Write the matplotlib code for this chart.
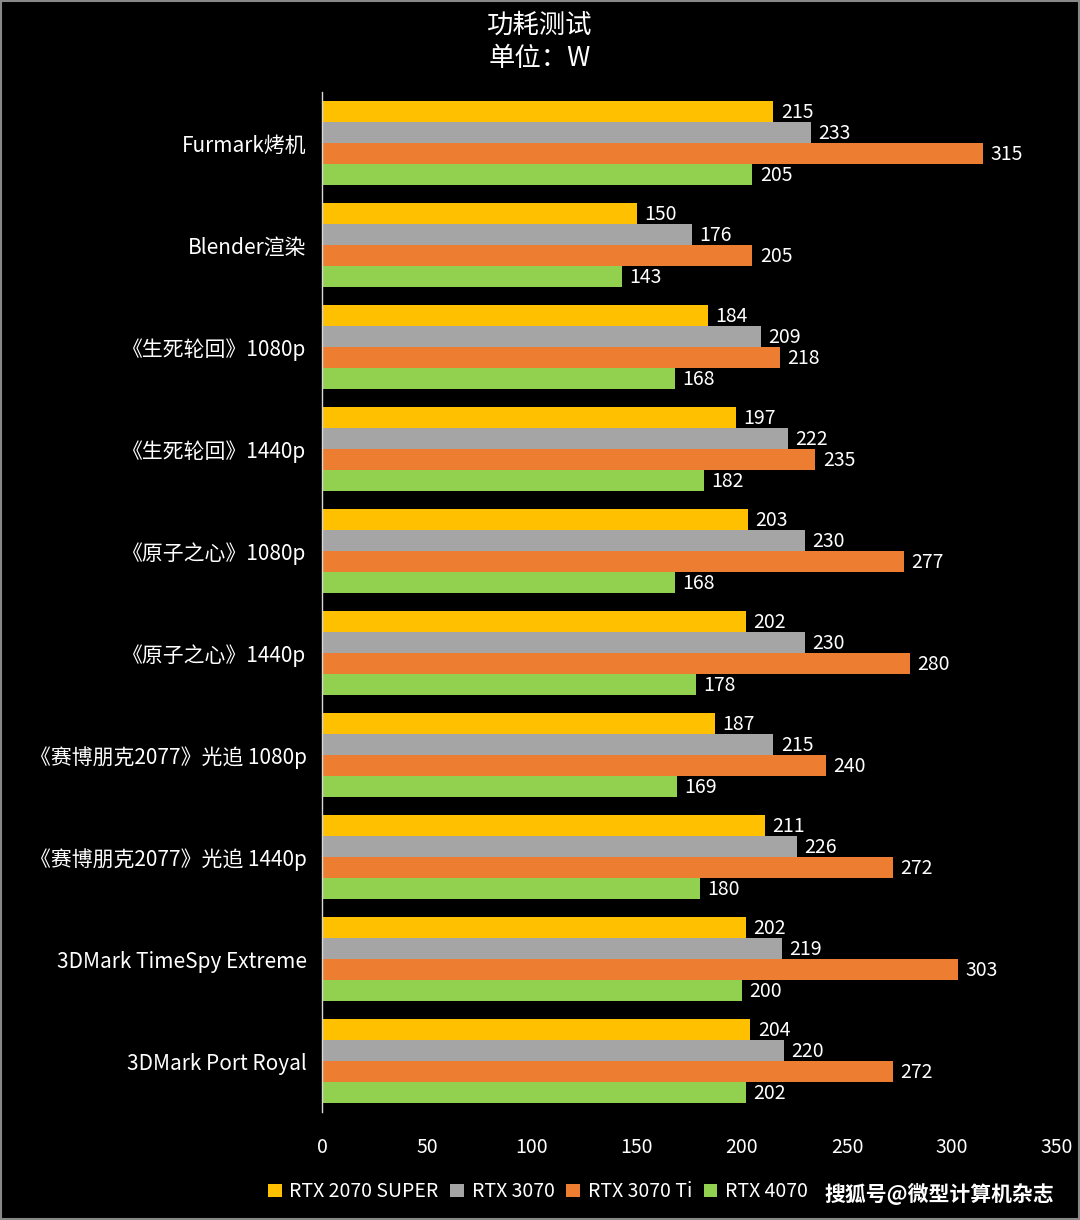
import matplotlib
matplotlib.use("Agg")
import matplotlib.pyplot as plt
from matplotlib.patches import Rectangle
import numpy as np

plt.rcParams['font.family'] = ['Noto Sans CJK SC', 'DejaVu Sans']

# données
categories = ["Furmark烤机", "Blender渲染", "《生死轮回》1080p", "《生死轮回》1440p",
              "《原子之心》1080p", "《原子之心》1440p", "《赛博朋克2077》光追 1080p",
              "《赛博朋克2077》光追 1440p", "3DMark TimeSpy Extreme", "3DMark Port Royal"]
rtx2070s = [215, 150, 184, 197, 203, 202, 187, 211, 202, 204]
rtx3070 = [233, 176, 209, 222, 230, 230, 215, 226, 219, 220]
rtx3070ti = [315, 205, 218, 235, 277, 280, 240, 272, 303, 272]
rtx4070 = [205, 143, 168, 182, 168, 178, 169, 180, 200, 202]
series_names = ["RTX 2070 SUPER", "RTX 3070", "RTX 3070 Ti", "RTX 4070"]
colors = ["#FFC000", "#A5A5A5", "#ED7D31", "#92D050"]
xticks = [0, 50, 100, 150, 200, 250, 300, 350]

fig = plt.figure(figsize=(10.8, 12.2), dpi=100, facecolor="black")
ax = fig.add_axes([0.2981, 0.0885, 0.6806, 0.8361])
ax.set_facecolor("black")

series = [rtx2070s, rtx3070, rtx3070ti, rtx4070]
n = len(categories)
y = np.arange(n)
h = 0.206
for i, (vals, c, name) in enumerate(zip(series, colors, series_names)):
    pos = y + (i - 1.5) * h
    bars = ax.barh(pos, vals, height=h, color=c, label=name)
    for b, v in zip(bars, vals):
        ax.text(v + 3.5, b.get_y() + h / 2 + 0.012, str(v), color="white", fontsize=14,
                va="center", ha="left")

ax.set_ylim(n - 0.5, -0.5)
ax.set_xlim(0, 350)
ax.set_yticks(y)
ax.set_yticklabels(categories, color="white", fontsize=15)
ax.set_xticks(xticks)
ax.set_xticklabels([str(t) for t in xticks], color="white", fontsize=14)
ax.tick_params(axis="y", length=0, pad=11)
ax.tick_params(axis="x", length=0, pad=18)
for s in ["top", "right", "bottom"]:
    ax.spines[s].set_visible(False)
ax.spines["left"].set_color("#D9D9D9")
ax.spines["left"].set_linewidth(1)

fig.text(0.5, 0.979, "功耗测试", color="white", fontsize=19, ha="center", va="center")
fig.text(0.5, 0.952, "单位：W", color="white", fontsize=19, ha="center", va="center")

leg = fig.legend(loc="center left", bbox_to_anchor=(0.232, 0.023), ncol=4, frameon=False,
                 fontsize=14, handlelength=0.7, handleheight=0.7, handletextpad=0.4,
                 columnspacing=0.6, labelcolor="white")

fig.text(0.976, 0.021, "搜狐号@微型计算机杂志", color="white", fontsize=15,
         fontweight="bold", ha="right", va="center")

# cadre
fig.patches.append(Rectangle((0.001, 0.001), 0.998, 0.998, transform=fig.transFigure,
                             fill=False, edgecolor="#888888", linewidth=1.5))

fig.savefig("out.png", dpi=100, facecolor="black")
